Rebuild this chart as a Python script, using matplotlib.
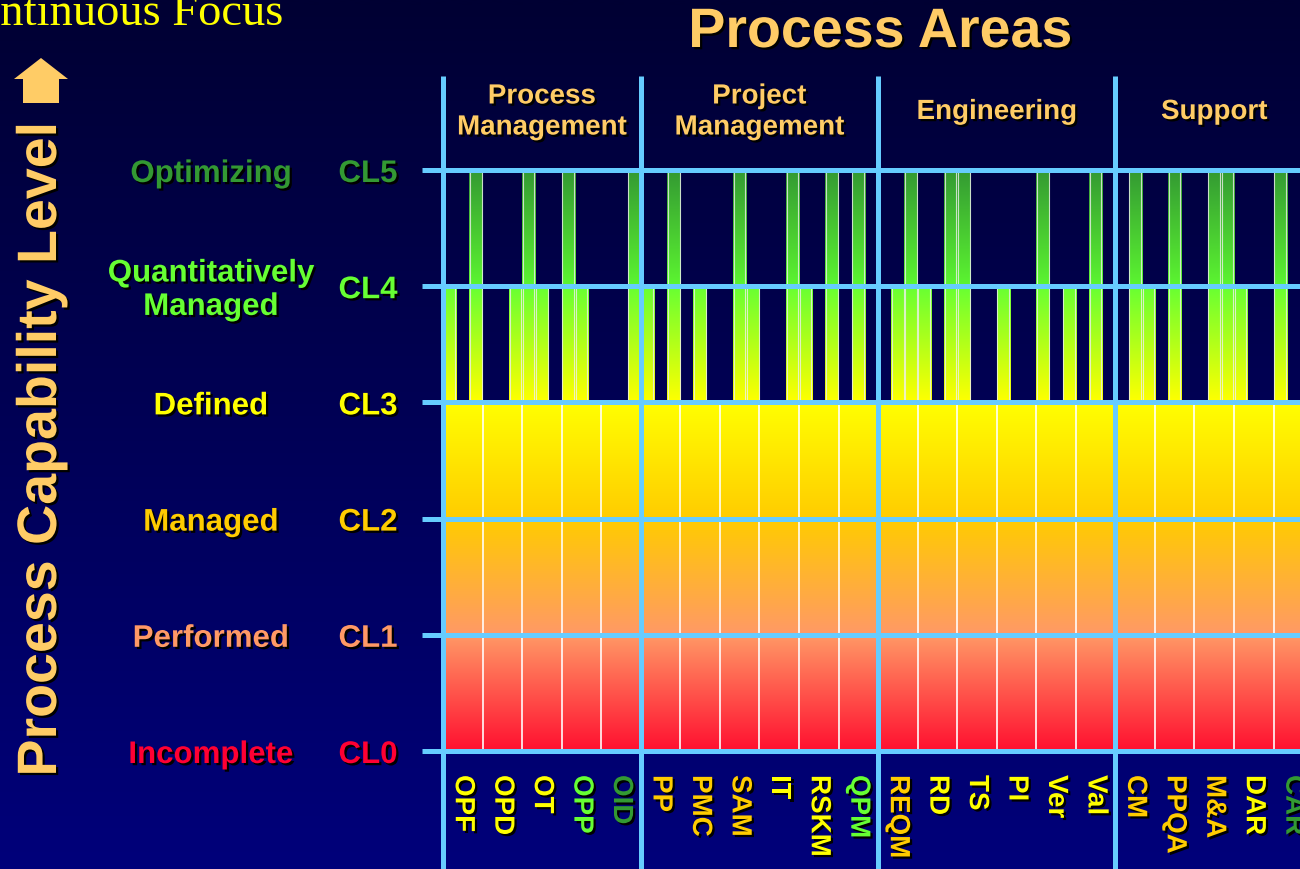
import numpy as np
import matplotlib
matplotlib.use("Agg")
import matplotlib.pyplot as plt
import matplotlib.patheffects as pe
from matplotlib.patches import FancyArrow
from matplotlib.colors import to_rgb

plt.rcParams['font.family'] = ['Liberation Sans', 'DejaVu Sans']

# --- data -------------------------------------------------------------
groups = ["Process\nManagement", "Project\nManagement", "Engineering", "Support"]
group_sizes = [5, 6, 6, 5]
process_areas = ["OPF", "OPD", "OT", "OPP", "OID",
                 "PP", "PMC", "SAM", "IT", "RSKM", "QPM",
                 "REQM", "RD", "TS", "PI", "Ver", "Val",
                 "CM", "PPQA", "M&A", "DAR", "CAR"]
# maturity level of each process area (only used for the label colour)
pa_maturity = [3, 3, 3, 4, 5,
               2, 2, 2, 3, 3, 4,
               2, 3, 3, 3, 3, 3,
               2, 2, 2, 3, 5]
# capability level reached by the full-width column
base_level = [3, 3, 3, 3, 3,
              3, 3, 3, 3, 3, 3,
              3, 3, 3, 3, 3, 3,
              3, 3, 3, 3, 3]
# three thin strips per process area going above CL3
strip_levels = [[4, 3, 5], [3, 3, 4], [5, 4, 3], [5, 4, 3], [3, 3, 5],
                [4, 3, 5], [3, 4, 3], [3, 5, 4], [3, 3, 5], [4, 3, 5], [3, 5, 3],
                [3, 4, 5], [4, 3, 5], [5, 3, 3], [4, 3, 3], [5, 3, 4], [3, 5, 3],
                [3, 5, 4], [3, 5, 3], [3, 5, 5], [4, 3, 3], [5, 3, 3]]
level_names = ["Incomplete", "Performed", "Managed", "Defined",
               "Quantitatively\nManaged", "Optimizing"]
level_codes = ["CL0", "CL1", "CL2", "CL3", "CL4", "CL5"]

# --- style ------------------------------------------------------------
level_colors = ["#FF0033", "#FF9966", "#FFCC00", "#FFFF00", "#66FF33", "#339933"]
band_colors = {0: ("#FF1030", "#FF9966"), 1: ("#FF9966", "#FFCC00"),
               2: ("#FFCC00", "#FFFF00"), 3: ("#FFFF00", "#66FF33"),
               4: ("#5CF530", "#339933")}
grid_color = "#66CCFF"
head_color = "#FFCC66"

W, H = 1300, 869
X0, CW = 443, 39.55    # pixel of column 0, pixels per column
Y0, LH = 751, 116.2    # pixel of CL0, pixels per level


def px_x(p):
    return (p - X0) / CW


def px_y(p):
    return (Y0 - p) / LH


fig = plt.figure(figsize=(W / 100, H / 100), dpi=100)
ax = fig.add_axes([0, 0, 1, 1])
ax.axis('off')
xlim = (px_x(0), px_x(W))
ylim = (px_y(H), px_y(0))


def vgrad(x0, x1, y0, y1, c0, c1, z=1):
    a, b = np.array(to_rgb(c0)), np.array(to_rgb(c1))
    t = np.linspace(0, 1, 96)[:, None, None]
    img = a + (b - a) * t
    ax.imshow(img, extent=[x0, x1, y0, y1], origin='lower', aspect='auto',
              interpolation='bilinear', zorder=z)


# background
vgrad(xlim[0], xlim[1], ylim[0], ylim[1], "#00007A", "#000033", z=0)

# full columns up to their base level
for i, lvl in enumerate(base_level):
    for b in range(lvl):
        vgrad(i, i + 1, b, b + 1, *band_colors[b])
ax.vlines(np.arange(1, len(process_areas)), 0, base_level[1:], color='white',
          lw=1.3, alpha=0.9, zorder=2)

# thin strips above the base
for i, levels in enumerate(strip_levels):
    for j, lvl in enumerate(levels):
        x0, x1 = i + j / 3, i + (j + 1) / 3
        for b in range(base_level[i], lvl):
            vgrad(x0, x1, b, b + 1, *band_colors[b])
        if lvl > base_level[i]:
            ax.vlines([x0 + 0.02, x1 - 0.02], base_level[i], lvl,
                      color='#EEEEEE', lw=0.8, alpha=0.8, zorder=2)

# grid lines
ax.hlines(range(len(level_names)), px_x(422), xlim[1], color=grid_color,
          lw=3.6, zorder=4)
starts = np.cumsum([0] + group_sizes[:-1])
ax.vlines(starts, ylim[0], px_y(76), color=grid_color, lw=3.6, zorder=4)

shadow = [pe.withSimplePatchShadow(offset=(1.6, -1.6), shadow_rgbFace='black', alpha=1.0)]

# titles
ax.text(px_x(880), px_y(33), "Process Areas", ha='center', va='center',
        fontsize=40, fontweight='bold', color=head_color, path_effects=shadow)
for g, s, n in zip(groups, starts, group_sizes):
    ax.text(s + n / 2, px_y(112), g, ha='center', va='center', fontsize=20,
            fontweight='bold', color=head_color, linespacing=1.25,
            path_effects=shadow)

# level labels
dy = 4 / LH
for lvl, (name, code) in enumerate(zip(level_names, level_codes)):
    ax.text(px_x(211), lvl - dy, name, ha='center', va='center', fontsize=22.5,
            fontweight='bold', color=level_colors[lvl], linespacing=1.15,
            path_effects=shadow)
    ax.text(px_x(368), lvl - dy, code, ha='center', va='center', fontsize=22.5,
            fontweight='bold', color=level_colors[lvl], path_effects=shadow)

# process area labels
for i, (pa, ml) in enumerate(zip(process_areas, pa_maturity)):
    ax.text(i + 0.5, px_y(775), pa, rotation=270, ha='center', va='top',
            fontsize=20, fontweight='bold', color=level_colors[ml],
            path_effects=shadow)

# y axis label and arrow
ax.text(px_x(42), px_y(450), "Process Capability Level", rotation=90,
        ha='center', va='center', fontsize=40, fontweight='bold',
        color=head_color, path_effects=shadow)
ax.add_patch(FancyArrow(px_x(41), px_y(103), 0, px_y(58) - px_y(103),
                        width=36 / CW, head_width=54 / CW, head_length=21 / LH,
                        length_includes_head=True, color=head_color, lw=0,
                        zorder=5))

fig.text(283 / W, 1 - 25 / H, "Continuous Focus", ha='right', va='baseline',
         fontsize=33.5, family='Liberation Serif', color='#FFFF00')

ax.set_xlim(*xlim)
ax.set_ylim(*ylim)
fig.savefig("out.png", dpi=100, facecolor='#000033')
